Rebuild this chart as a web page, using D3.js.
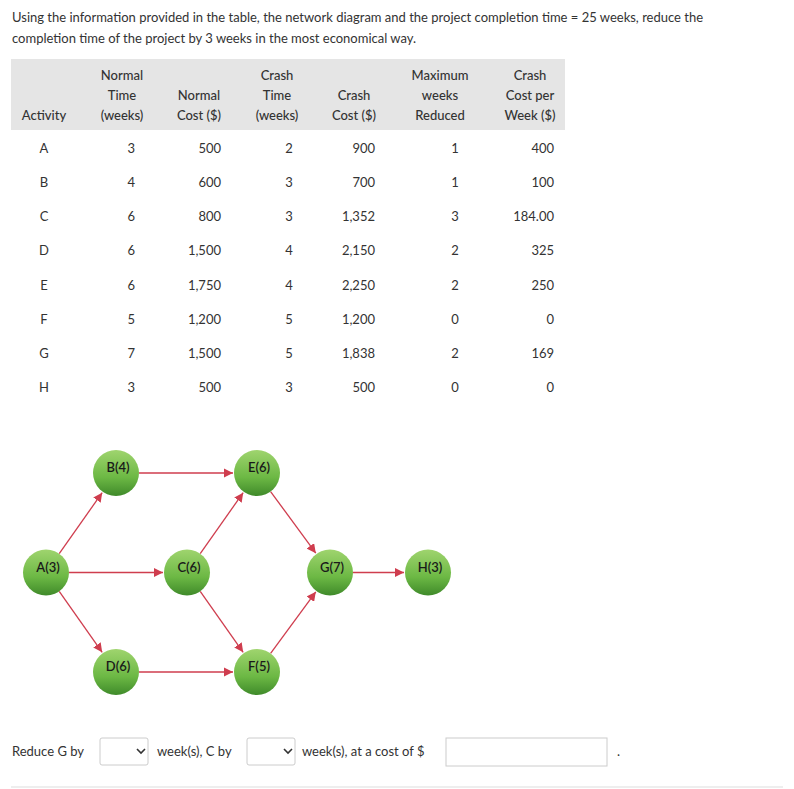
<!DOCTYPE html><html><head><meta charset="utf-8">
<script src="https://cdn.jsdelivr.net/npm/d3@7"></script>
<style>body{margin:0;background:#fff}svg{font-family:Lato,"Open Sans",sans-serif}</style></head><body>
<svg id="c" width="794" height="789"></svg>
<script>
const activities=["A","B","C","D","E","F","G","H"];
const normalTime=["3","4","6","6","6","5","7","3"];
const normalCost=["500","600","800","1,500","1,750","1,200","1,500","500"];
const crashTime=["2","3","3","4","4","5","5","3"];
const crashCost=["900","700","1,352","2,150","2,250","1,200","1,838","500"];
const maxReduced=["1","1","3","2","2","0","2","0"];
const costPerWeek=["400","100","184.00","325","250","0","169","0"];
const headers=[["Activity"],["Normal","Time","(weeks)"],["Normal","Cost ($)"],["Crash","Time","(weeks)"],["Crash","Cost ($)"],["Maximum","weeks","Reduced"],["Crash","Cost per","Week ($)"]];
const nodes=[{id:"A",d:3,c:0,r:1},{id:"B",d:4,c:1,r:0},{id:"D",d:6,c:1,r:2},{id:"C",d:6,c:2,r:1},{id:"E",d:6,c:3,r:0},{id:"F",d:5,c:3,r:2},{id:"G",d:7,c:4,r:1},{id:"H",d:3,c:5,r:1}];
const links=[["A","B"],["A","C"],["A","D"],["B","E"],["C","E"],["C","F"],["D","F"],["E","G"],["F","G"],["G","H"]];

const svg=d3.select("#c");
const txt=(x,y,s,o={})=>svg.append("text").attr("x",x).attr("y",y).attr("font-size",o.fs||13).attr("fill",o.fill||"#333").attr("text-anchor",o.a||"start").attr("font-weight",o.w||400).text(s);
txt(12,22,"Using the information provided in the table, the network diagram and the project completion time = 25 weeks, reduce the");
txt(12,43,"completion time of the project by 3 weeks in the most economical way.");

svg.append("rect").attr("x",11).attr("y",59).attr("width",554).attr("height",71).attr("fill","#e5e5e5");
const hx=[44,122,199,277,354,440,530];
headers.forEach((h,i)=>h.forEach((l,j)=>txt(hx[i],120-(h.length-1-j)*20,l,{a:"middle",w:500,fill:"#333"})));
const y=d3.scalePoint().domain(activities).range([153,392]);
const cols=[[activities,44,"middle"],[normalTime,135,"end"],[normalCost,221,"end"],[crashTime,289,"middle"],[crashCost,375,"end"],[maxReduced,455,"middle"],[costPerWeek,554,"end"]];
cols.forEach(([arr,x,a])=>arr.forEach((v,i)=>txt(x,y(activities[i]),v,{a})));

const defs=svg.append("defs");
const g=defs.append("linearGradient").attr("id","gr").attr("x1",0).attr("y1",0).attr("x2",0).attr("y2",1);
g.append("stop").attr("offset","0").attr("stop-color","#9fd46e");
g.append("stop").attr("offset","0.6").attr("stop-color","#6cb844");
g.append("stop").attr("offset","1").attr("stop-color","#3f8a2a");
defs.append("marker").attr("id","ar").attr("viewBox","0 0 10 10").attr("refX",10).attr("refY",5).attr("markerWidth",7).attr("markerHeight",7).attr("orient","auto")
 .append("path").attr("d","M0,0L10,5L0,10z").attr("fill","#cf3d4e");
const xs=d3.scaleLinear().domain([0,5]).range([46,428]);
const ys=d3.scaleLinear().domain([0,2]).range([473,672]);
const pos={};nodes.forEach(n=>{pos[n.id]=[xs(n.c)+(n.c==5?0:0),ys(n.r)]});
// actual x columns: 46,116,187,257,330,428
const colX=[46,116,187,257,330,428];nodes.forEach(n=>pos[n.id]=[colX[n.c],ys(n.r)]);
const R=23;
links.forEach(([a,b])=>{const[p,q]=[pos[a],pos[b]];const dx=q[0]-p[0],dy=q[1]-p[1],L=Math.hypot(dx,dy);
 svg.append("line").attr("x1",p[0]+dx/L*R).attr("y1",p[1]+dy/L*R).attr("x2",q[0]-dx/L*(R+1)).attr("y2",q[1]-dy/L*(R+1)).attr("stroke","#cf3d4e").attr("stroke-width",1.3).attr("marker-end","url(#ar)");});
nodes.forEach(n=>{const[p0,p1]=pos[n.id];
 svg.append("circle").attr("cx",p0).attr("cy",p1).attr("r",R).attr("fill","url(#gr)");
 txt(p0+2,p1-1,`${n.id}(${n.d})`,{a:"middle",w:600,fill:"#1a1a1a"});});

txt(12,756,"Reduce G by");
const sel=x=>{svg.append("rect").attr("x",x).attr("y",738).attr("width",48).attr("height",27).attr("fill","#fff").attr("stroke","#ccc").attr("rx",2);
 svg.append("path").attr("d",`M${x+37},749l4,4l4,-4`).attr("fill","none").attr("stroke","#333").attr("stroke-width",1.6);};
sel(100);txt(157,756,"week(s), C by");sel(247);txt(302,756,"week(s), at a cost of $");
svg.append("rect").attr("x",446).attr("y",738).attr("width",161).attr("height",28).attr("fill","#fff").attr("stroke","#ccc");
txt(617,756,".");
svg.append("line").attr("x1",11).attr("x2",783).attr("y1",787).attr("y2",787).attr("stroke","#ddd");
</script></body></html>
